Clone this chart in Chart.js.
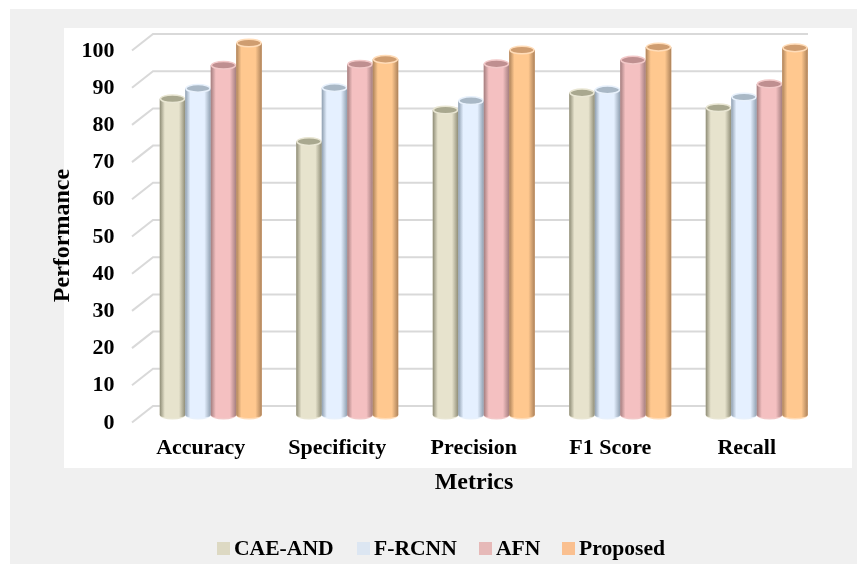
<!DOCTYPE html>
<html>
<head>
<meta charset="utf-8">
<title>Performance</title>
<style>
html, body { margin: 0; padding: 0; background: #fff; }
canvas { display: block; }
</style>
<script src="https://cdn.jsdelivr.net/npm/chart.js@4"></script>
</head>
<body>
<canvas id="barChart" width="857" height="564"></canvas>
<script>
var categories = ['Accuracy', 'Specificity', 'Precision', 'F1 Score', 'Recall'];
var caeAnd = [85, 73.5, 82, 86.6, 82.6];
var fRcnn = [87.8, 88, 84.5, 87.4, 85.5];
var afn = [94, 94.3, 94.4, 95.4, 89];
var proposed = [100, 95.6, 98.1, 98.9, 98.7];
var yTicks = [0, 10, 20, 30, 40, 50, 60, 70, 80, 90, 100];

var serif = 'Liberation Serif';
var legendX = [217, 357, 479, 562];

// edge, body, cap
var shades = [
    { edge: '#8e8c76', mid: '#e7e3cd', cap: '#a9a88f', rim: '#e9e6d3' },
    { edge: '#8f9fb0', mid: '#e5f0ff', cap: '#a9b8c6', rim: '#e8f1fc' },
    { edge: '#a37d7e', mid: '#f4c0c1', cap: '#bf8f90', rim: '#f2c8c8' },
    { edge: '#ac825a', mid: '#ffc88f', cap: '#cf9d70', rim: '#ffdcb8' }
];

// panels behind the chart
var panels = {
    id: 'panels',
    beforeDraw: function(chart) {
        var ctx = chart.ctx;
        ctx.save();
        ctx.fillStyle = '#fff';
        ctx.fillRect(0, 0, chart.width, chart.height);
        ctx.fillStyle = '#f0f0f0';
        ctx.fillRect(10, 9, chart.width - 10, chart.height - 9);
        ctx.fillStyle = '#fff';
        ctx.fillRect(64, 28, 788, 440);
        ctx.restore();
    }
};

// 3d looking grid: slanted part on the wall, flat part at the back
var wallGrid = {
    id: 'wallGrid',
    beforeDatasetsDraw: function(chart) {
        var ctx = chart.ctx;
        var y = chart.scales.y;
        ctx.save();
        ctx.strokeStyle = '#d9d9d9';
        ctx.lineWidth = 2;
        yTicks.forEach(function(tick) {
            var p = y.getPixelForValue(tick);
            ctx.beginPath();
            ctx.moveTo(132, p + 7.5);
            ctx.lineTo(153, p - 9);
            ctx.lineTo(808, p - 9);
            ctx.stroke();
        });
        ctx.restore();
    }
};

// paints each bar as a cylinder, at the position the bar element got
var cylinders = {
    id: 'cylinders',
    afterDatasetsDraw: function(chart) {
        var ctx = chart.ctx;
        chart.data.datasets.forEach(function(ds, i) {
            var c = shades[i];
            chart.getDatasetMeta(i).data.forEach(function(bar) {
                var l = bar.x - bar.width / 2;
                var r = bar.x + bar.width / 2;
                var rx = bar.width / 2;
                var ry = 4.5;
                var grad = ctx.createLinearGradient(l, 0, r, 0);
                grad.addColorStop(0, c.edge);
                grad.addColorStop(0.2, c.mid);
                grad.addColorStop(0.75, c.mid);
                grad.addColorStop(1, c.edge);
                ctx.save();
                // body with round bottom
                ctx.fillStyle = c.rim;
                ctx.beginPath();
                ctx.ellipse(bar.x, bar.base, rx, ry, 0, 0, Math.PI * 2);
                ctx.fill();
                ctx.fillStyle = grad;
                ctx.beginPath();
                ctx.moveTo(l, bar.y);
                ctx.lineTo(r, bar.y);
                ctx.lineTo(r, bar.base);
                ctx.ellipse(bar.x, bar.base, rx, ry - 1.5, 0, 0, Math.PI);
                ctx.closePath();
                ctx.fill();
                // top cap
                ctx.fillStyle = c.cap;
                ctx.strokeStyle = c.rim;
                ctx.lineWidth = 1.5;
                ctx.beginPath();
                ctx.ellipse(bar.x, bar.y, rx - 0.7, ry - 0.7, 0, 0, Math.PI * 2);
                ctx.fill();
                ctx.stroke();
                ctx.restore();
            });
        });
    }
};

// axis titles are not centred on the plot, so the built in ones do not fit
var axisTitles = {
    id: 'axisTitles',
    afterDraw: function(chart) {
        var ctx = chart.ctx;
        ctx.save();
        ctx.font = 'bold 24px "' + serif + '"';
        ctx.fillStyle = '#000';
        ctx.textAlign = 'center';
        ctx.textBaseline = 'middle';
        ctx.fillText('Metrics', 474, 483);
        ctx.translate(63, 235.5);
        ctx.rotate(-Math.PI / 2);
        ctx.fillText('Performance', 0, 0);
        ctx.restore();
    }
};

// legend squares sit closer to the text than the built in legend allows
var bottomLegend = {
    id: 'bottomLegend',
    afterDraw: function(chart) {
        var ctx = chart.ctx;
        ctx.save();
        ctx.font = 'bold 21.6px "' + serif + '"';
        ctx.textBaseline = 'middle';
        chart.data.datasets.forEach(function(ds, i) {
            ctx.fillStyle = ds.backgroundColor;
            ctx.fillRect(legendX[i], 542, 13, 13);
            ctx.fillStyle = '#000';
            ctx.fillText(ds.label, legendX[i] + 17, 549);
        });
        ctx.restore();
    }
};

var ctx = document.getElementById('barChart').getContext('2d');
var myChart = new Chart(ctx, {
    type: 'bar',
    data: {
        labels: categories,
        datasets: [
            { label: 'CAE-AND', backgroundColor: '#ddd9c3', data: caeAnd },
            { label: 'F-RCNN', backgroundColor: '#dce6f2', data: fRcnn },
            { label: 'AFN', backgroundColor: '#e6b9b8', data: afn },
            { label: 'Proposed', backgroundColor: '#fac090', data: proposed }
        ]
    },
    options: {
        responsive: false,
        animation: false,
        devicePixelRatio: 1,
        categoryPercentage: 0.747,
        barPercentage: 1,
        layout: { padding: { left: 44, top: 43, right: 32, bottom: 69 } },
        plugins: {
            legend: { display: false },
            tooltip: { enabled: false }
        },
        scales: {
            x: {
                afterFit: function(scale) { scale.height = 80; },
                grid: { display: false, drawTicks: false },
                border: { display: false },
                ticks: {
                    color: '#000',
                    padding: 20,
                    labelOffset: -10,
                    maxRotation: 0,
                    font: { family: serif, size: 22, weight: 'bold' }
                }
            },
            y: {
                min: 0,
                max: 100,
                afterFit: function(scale) { scale.width = 98.5; },
                grid: { display: false, drawTicks: false },
                border: { display: false },
                afterBuildTicks: function(scale) {
                    scale.ticks = yTicks.map(function(v) { return { value: v }; });
                },
                ticks: {
                    color: '#000',
                    padding: 28,
                    labelOffset: 8,
                    font: { family: serif, size: 22, weight: 'bold' }
                }
            }
        }
    },
    plugins: [panels, wallGrid, cylinders, axisTitles, bottomLegend]
});
</script>
</body>
</html>
